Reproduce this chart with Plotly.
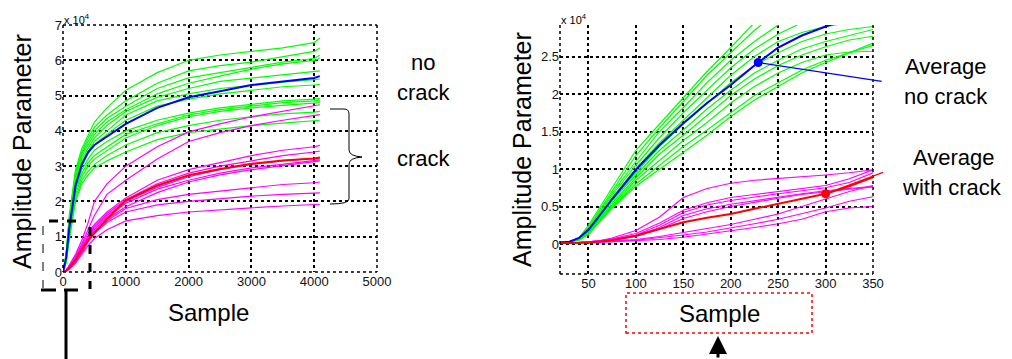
import plotly.graph_objects as go

W, H = 1012, 359

# ---------------- data (amplitude in units of 1e4) ----------------
left_x = [0, 50, 100, 200, 300, 400, 500, 700, 1000, 1500, 2000, 2500, 3000, 3500, 4000, 4090]

left_green = [
    [0, 0.5, 1.6, 2.9, 3.5, 3.9, 4.25, 4.65, 5.15, 5.65, 6.0, 6.15, 6.25, 6.35, 6.5, 6.63],
    [0, 0.5, 1.5, 2.8, 3.4, 3.8, 4.1, 4.45, 4.85, 5.35, 5.7, 5.85, 5.95, 6.1, 6.25, 6.35],
    [0, 0.5, 1.5, 2.8, 3.35, 3.7, 4.0, 4.35, 4.7, 5.2, 5.5, 5.65, 5.8, 5.95, 6.05, 6.14],
    [0, 0.45, 1.4, 2.7, 3.3, 3.6, 3.9, 4.25, 4.6, 5.05, 5.35, 5.55, 5.75, 5.9, 6.0, 6.05],
    [0, 0.45, 1.4, 2.6, 3.2, 3.5, 3.8, 4.15, 4.55, 4.95, 5.2, 5.4, 5.5, 5.6, 5.68, 5.7],
    [0, 0.4, 1.3, 2.5, 3.1, 3.4, 3.7, 4.0, 4.45, 4.85, 5.05, 5.2, 5.3, 5.38, 5.45, 5.47],
    [0, 0.4, 1.3, 2.45, 3.0, 3.35, 3.6, 3.9, 4.3, 4.7, 4.9, 5.05, 5.15, 5.25, 5.3, 5.32],
    [0, 0.35, 1.2, 2.35, 2.9, 3.2, 3.45, 3.7, 4.0, 4.3, 4.5, 4.65, 4.75, 4.85, 4.9, 4.92],
    [0, 0.35, 1.15, 2.3, 2.8, 3.1, 3.3, 3.55, 3.9, 4.2, 4.45, 4.6, 4.7, 4.8, 4.85, 4.87],
    [0, 0.3, 1.1, 2.2, 2.7, 3.0, 3.2, 3.45, 3.8, 4.15, 4.4, 4.55, 4.65, 4.72, 4.78, 4.8],
    [0, 0.3, 1.0, 2.1, 2.6, 2.85, 3.05, 3.3, 3.6, 3.95, 4.15, 4.3, 4.4, 4.48, 4.53, 4.55],
    [0, 0.25, 0.9, 2.0, 2.5, 2.75, 2.95, 3.15, 3.4, 3.75, 3.95, 4.05, 4.15, 4.22, 4.28, 4.3],
]
left_blue = [0, 0.4, 1.25, 2.45, 3.05, 3.4, 3.6, 3.85, 4.2, 4.65, 4.95, 5.12, 5.3, 5.4, 5.5, 5.55]

left_magenta = [
    [0, 0.05, 0.2, 0.5, 0.9, 1.4, 2.0, 2.5, 3.0, 3.55, 3.97, 4.2, 4.4, 4.55, 4.7, 4.74],
    [0, 0.05, 0.15, 0.45, 0.8, 1.2, 1.6, 2.2, 2.6, 3.2, 3.7, 3.95, 4.15, 4.3, 4.42, 4.46],
    [0, 0.05, 0.15, 0.4, 0.75, 1.1, 1.35, 1.7, 2.1, 2.6, 2.9, 3.1, 3.3, 3.45, 3.55, 3.59],
    [0, 0.04, 0.12, 0.35, 0.7, 1.0, 1.3, 1.65, 2.05, 2.5, 2.8, 3.0, 3.15, 3.3, 3.4, 3.43],
    [0, 0.04, 0.12, 0.35, 0.65, 1.0, 1.25, 1.6, 2.0, 2.4, 2.7, 2.9, 3.05, 3.15, 3.22, 3.26],
    [0, 0.03, 0.1, 0.3, 0.6, 0.95, 1.2, 1.55, 1.95, 2.35, 2.6, 2.8, 2.95, 3.05, 3.15, 3.18],
    [0, 0.03, 0.1, 0.3, 0.6, 0.9, 1.15, 1.5, 1.85, 2.25, 2.55, 2.75, 2.9, 3.02, 3.12, 3.15],
    [0, 0.03, 0.1, 0.3, 0.6, 0.9, 1.15, 1.45, 1.8, 2.05, 2.2, 2.3, 2.4, 2.48, 2.53, 2.55],
    [0, 0.03, 0.1, 0.28, 0.55, 0.85, 1.1, 1.4, 1.7, 1.9, 2.0, 2.08, 2.15, 2.2, 2.23, 2.24],
    [0, 0.02, 0.08, 0.25, 0.5, 0.75, 0.95, 1.2, 1.45, 1.6, 1.7, 1.77, 1.82, 1.87, 1.9, 1.92],
]
left_red = [0, 0.04, 0.12, 0.35, 0.65, 0.9, 1.1, 1.5, 2.03, 2.45, 2.74, 2.92, 3.07, 3.16, 3.22, 3.24]

right_x = [20, 30, 40, 50, 60, 75, 100, 125, 150, 175, 200, 225, 250, 275, 300, 325, 350]

right_green = [
    [0.02, 0.03, 0.08, 0.25, 0.45, 0.75, 1.25, 1.6, 1.95, 2.3, 2.62, 2.95, 3.2, 3.4, 3.5, 3.6, 3.7],
    [0.02, 0.03, 0.08, 0.22, 0.42, 0.7, 1.18, 1.55, 1.9, 2.25, 2.55, 2.85, 3.1, 3.3, 3.4, 3.5, 3.6],
    [0.02, 0.03, 0.07, 0.2, 0.4, 0.68, 1.1, 1.5, 1.82, 2.15, 2.45, 2.7, 2.92, 3.1, 3.2, 3.3, 3.4],
    [0.02, 0.03, 0.07, 0.2, 0.38, 0.65, 1.05, 1.42, 1.75, 2.05, 2.35, 2.6, 2.8, 2.95, 3.05, 3.15, 3.25],
    [0.02, 0.03, 0.07, 0.18, 0.36, 0.62, 1.0, 1.35, 1.65, 1.95, 2.25, 2.5, 2.7, 2.82, 2.9, 2.95, 3.0],
    [0.02, 0.03, 0.06, 0.18, 0.34, 0.6, 0.95, 1.3, 1.6, 1.88, 2.15, 2.38, 2.55, 2.7, 2.8, 2.86, 2.9],
    [0.02, 0.03, 0.06, 0.17, 0.32, 0.58, 0.92, 1.25, 1.52, 1.8, 2.05, 2.28, 2.45, 2.6, 2.7, 2.78, 2.86],
    [0.02, 0.03, 0.06, 0.16, 0.3, 0.55, 0.88, 1.2, 1.45, 1.72, 1.98, 2.2, 2.38, 2.52, 2.63, 2.72, 2.77],
    [0.02, 0.03, 0.06, 0.15, 0.3, 0.52, 0.85, 1.12, 1.38, 1.62, 1.88, 2.1, 2.28, 2.42, 2.52, 2.56, 2.57],
    [0.02, 0.03, 0.05, 0.14, 0.28, 0.5, 0.8, 1.05, 1.3, 1.52, 1.75, 1.98, 2.15, 2.32, 2.45, 2.55, 2.65],
    [0.02, 0.03, 0.05, 0.13, 0.27, 0.48, 0.77, 1.0, 1.22, 1.45, 1.7, 1.92, 2.1, 2.28, 2.42, 2.55, 2.68],
]
right_blue = [0.02, 0.03, 0.08, 0.19, 0.35, 0.6, 0.99, 1.32, 1.61, 1.88, 2.12, 2.38, 2.62, 2.78, 2.9, 3.0, 3.1]

right_magenta = [
    [0.01, 0.01, 0.02, 0.03, 0.04, 0.08, 0.18, 0.36, 0.62, 0.74, 0.81, 0.85, 0.87, 0.9, 0.92, 0.95, 0.99],
    [0.01, 0.01, 0.02, 0.03, 0.04, 0.07, 0.14, 0.28, 0.45, 0.55, 0.62, 0.66, 0.7, 0.74, 0.78, 0.87, 0.99],
    [0.01, 0.01, 0.02, 0.03, 0.04, 0.06, 0.12, 0.25, 0.42, 0.52, 0.58, 0.63, 0.67, 0.71, 0.75, 0.82, 0.95],
    [0.01, 0.01, 0.02, 0.03, 0.04, 0.06, 0.11, 0.22, 0.38, 0.47, 0.53, 0.58, 0.63, 0.67, 0.71, 0.74, 0.77],
    [0.01, 0.01, 0.02, 0.03, 0.04, 0.05, 0.1, 0.2, 0.34, 0.43, 0.5, 0.56, 0.61, 0.66, 0.7, 0.73, 0.76],
    [0.01, 0.01, 0.02, 0.02, 0.03, 0.04, 0.06, 0.1, 0.15, 0.2, 0.26, 0.33, 0.4, 0.5, 0.6, 0.7, 0.78],
    [0.01, 0.01, 0.02, 0.02, 0.03, 0.03, 0.05, 0.08, 0.12, 0.16, 0.21, 0.27, 0.33, 0.4, 0.48, 0.57, 0.63],
    [0.01, 0.01, 0.01, 0.02, 0.02, 0.03, 0.04, 0.06, 0.09, 0.13, 0.17, 0.22, 0.27, 0.33, 0.43, 0.48, 0.5],
]
right_red = [0.01, 0.01, 0.02, 0.02, 0.03, 0.05, 0.11, 0.2, 0.29, 0.35, 0.4, 0.47, 0.54, 0.6, 0.67, 0.77, 0.89]

marker_blue = (229, 2.42)
marker_red = (300, 0.67)

left_xticks = [0, 1000, 2000, 3000, 4000, 5000]
left_yticks = [0, 1, 2, 3, 4, 5, 6, 7]
right_xticks = [50, 100, 150, 200, 250, 300, 350]
right_yticks = [0, 0.5, 1, 1.5, 2, 2.5]
right_ytext = ["0", "0.5", "1", "1.5", "2", "2.5"]

GREEN, MAGENTA, BLUE, RED = "#00ff00", "#ff00ff", "#0000ff", "#ff0000"
FONT = "Arial, Liberation Sans, sans-serif"


def px(x):
    return x / W


def py(y):
    return 1 - y / H


fig = go.Figure()


def add_lines(xs, groups, color, width, xa, ya):
    for ys in groups:
        fig.add_trace(go.Scatter(x=xs, y=ys, mode="lines", xaxis=xa, yaxis=ya,
                                 line=dict(color=color, width=width),
                                 showlegend=False, hoverinfo="skip"))


add_lines(left_x, left_green, GREEN, 1.2, "x", "y")
add_lines(left_x, left_magenta, MAGENTA, 1.2, "x", "y")
add_lines(left_x, [left_blue], BLUE, 2, "x", "y")
add_lines(left_x, [left_red], RED, 2, "x", "y")

add_lines(right_x, right_green, GREEN, 1.2, "x2", "y2")
add_lines(right_x, right_magenta, MAGENTA, 1.2, "x2", "y2")
add_lines(right_x, [right_blue], BLUE, 2, "x2", "y2")
add_lines(right_x, [right_red], RED, 2, "x2", "y2")

fig.add_trace(go.Scatter(x=[marker_blue[0]], y=[marker_blue[1]], mode="markers",
                         xaxis="x2", yaxis="y2", marker=dict(color=BLUE, size=9),
                         showlegend=False, hoverinfo="skip"))
fig.add_trace(go.Scatter(x=[marker_red[0]], y=[marker_red[1]], mode="markers",
                         xaxis="x2", yaxis="y2", marker=dict(color=RED, size=9),
                         showlegend=False, hoverinfo="skip"))

axis_common = dict(showgrid=True, gridcolor="black", griddash="dot", gridwidth=1.5,
                   zeroline=False, showline=False, ticks="", automargin=False,
                   tickfont=dict(family=FONT, size=13, color="#111"))

fig.update_layout(
    width=W, height=H, autosize=False, margin=dict(l=0, r=0, t=0, b=0, pad=0),
    paper_bgcolor="white", plot_bgcolor="white", showlegend=False,
    xaxis=dict(domain=[px(63), px(377)], range=[0, 5000], tickvals=left_xticks,
               anchor="y", **axis_common),
    yaxis=dict(domain=[py(272), py(25)], range=[0, 7], tickvals=left_yticks,
               anchor="x", **axis_common),
    xaxis2=dict(domain=[px(560), px(873)], range=[20, 350], tickvals=right_xticks,
                anchor="y2", **axis_common),
    yaxis2=dict(domain=[py(274), py(25)], range=[-0.4, 2.92], tickvals=right_yticks,
                ticktext=right_ytext, anchor="x2", **axis_common),
)

shapes = []


def seg(x0, y0, x1, y1, width, dash="solid", color="black"):
    shapes.append(dict(type="line", xref="paper", yref="paper", x0=px(x0), y0=py(y0),
                       x1=px(x1), y1=py(y1), line=dict(color=color, width=width, dash=dash)))


# dotted frames (matlab-style box)
seg(63, 25, 63, 272, 1.5, "dot")
seg(377, 25, 377, 272, 1.5, "dot")
seg(63, 25, 377, 25, 1.5, "dot")
seg(63, 272, 377, 272, 1.5, "dot")
seg(560, 25, 560, 274, 1.5, "dot")
seg(873, 25, 873, 274, 1.5, "dot")
seg(560, 274, 873, 274, 1.5, "dot")

# dashed zoom indicator on left plot
seg(49, 221, 86, 221, 3, "dash")
seg(90, 227, 90, 289, 3, "dash")
seg(43, 226, 43, 288, 1, "dash")
seg(41, 290, 56, 290, 3)
seg(64, 290, 78, 290, 3)
seg(66, 290, 66, 359, 3)

# curly brace
path = "M {} {}".format(px(330), py(109))
path += " L {} {}".format(px(344), py(109))
path += " Q {} {} {} {}".format(px(349), py(109), px(349), py(114))
path += " L {} {}".format(px(349), py(150))
path += " Q {} {} {} {}".format(px(349), py(156), px(362), py(157))
path += " Q {} {} {} {}".format(px(349), py(158), px(349), py(164))
path += " L {} {}".format(px(349), py(199))
path += " Q {} {} {} {}".format(px(349), py(204), px(330), py(204))
shapes.append(dict(type="path", xref="paper", yref="paper", path=path,
                   line=dict(color="black", width=1)))

# red dotted box round right "Sample"
shapes.append(dict(type="rect", xref="paper", yref="paper", x0=px(626), x1=px(812),
                   y0=py(333), y1=py(293), line=dict(color=RED, width=1.5, dash="dot")))

fig.update_layout(shapes=shapes)

ann = []


def text(x, y, s, size, xanchor="center", angle=0):
    ann.append(dict(xref="paper", yref="paper", x=px(x), y=py(y), text=s, showarrow=False,
                    xanchor=xanchor, yanchor="middle", textangle=angle,
                    font=dict(family=FONT, size=size, color="black")))


text(22, 152, "Amplitude Parameter", 25, angle=-90)
text(522, 150, "Amplitude Parameter", 25, angle=-90)
text(208, 312, "Sample", 24)
text(719, 313, "Sample", 24)
text(62, 19, "x 10<sup>4</sup>", 11, xanchor="left")
text(559, 19, "x 10<sup>4</sup>", 11, xanchor="left")
text(423, 62, "no", 22)
text(424, 92, "crack", 22)
text(424, 158, "crack", 22)
text(946, 66, "Average", 22)
text(946, 97, "no crack", 22)
text(954, 157, "Average", 22)
text(952, 187, "with crack", 22)

# pointer lines from markers
ann.append(dict(xref="x2", yref="y2", x=marker_blue[0], y=marker_blue[1], text="",
                showarrow=True, arrowhead=0, arrowwidth=1.3, arrowcolor=BLUE,
                ax=125, ay=19, standoff=0))
ann.append(dict(xref="x2", yref="y2", x=marker_red[0], y=marker_red[1], text="",
                showarrow=True, arrowhead=0, arrowwidth=1.3, arrowcolor=RED,
                ax=59, ay=-22, standoff=0))
# black arrow under right "Sample"
ann.append(dict(xref="paper", yref="paper", x=px(718), y=py(336), text="",
                showarrow=True, arrowhead=2, arrowsize=1.2, arrowwidth=3,
                arrowcolor="black", ax=0, ay=26))

fig.update_layout(annotations=ann)

fig.write_html(
    "out.html",
    config={"responsive": False, "displayModeBar": False},
    post_script="document.body.style.margin='0';document.body.style.overflow='hidden';",
)
